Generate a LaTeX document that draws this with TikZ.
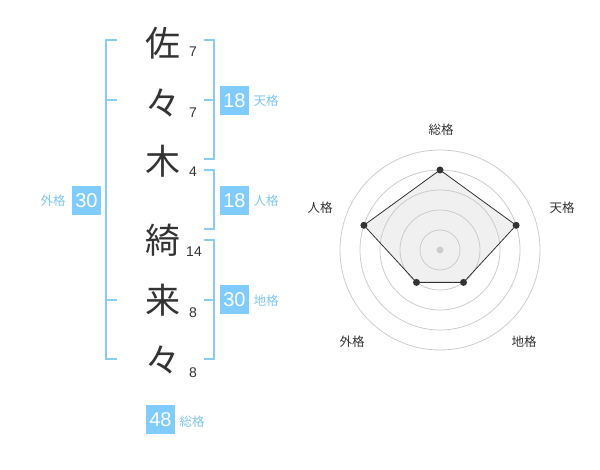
\documentclass[tikz,border=0pt]{standalone}
\usepackage{fontspec}
\setmainfont{Noto Sans CJK JP}
\newfontfamily\digitfont{Liberation Sans}
\definecolor{ink}{HTML}{333333}
\definecolor{lineblue}{HTML}{88CCF6}
\definecolor{boxblue}{HTML}{80CCFF}
\definecolor{labblue}{HTML}{7EC6F2}
\definecolor{ringgray}{HTML}{CCCCCC}
\definecolor{areagray}{HTML}{F0F0F0}
\tikzset{
  kanji/.style={font=\fontsize{35}{35}\selectfont, text=ink, inner sep=0},
  strokes/.style={font=\digitfont\fontsize{14}{14}\selectfont, text=ink, inner sep=0},
  valbox/.style={fill=boxblue, text=white, minimum width=29, minimum height=29, inner sep=0, font=\digitfont\fontsize{20}{20}\selectfont},
  kaku/.style={text=labblue, font=\fontsize{12.5}{12.5}\selectfont, inner sep=0},
  brk/.style={draw=lineblue, line width=2},
  axislab/.style={text=ink, font=\fontsize{12.5}{12.5}\selectfont, inner sep=0},
  ring/.style={draw=ringgray, line width=0.8},
}
\begin{document}
\begin{tikzpicture}[x=1pt,y=-1pt]
\useasboundingbox (0,0) rectangle (600,470);
% characters
\node[kanji] (c1) at (163,43) {佐};
\node[kanji] (c2) at (163,103) {々};
\node[kanji] (c3) at (163,161) {木};
\node[kanji] (c4) at (163,240) {綺};
\node[kanji] (c5) at (163,300) {来};
\node[kanji] (c6) at (163,360) {々};
% stroke counts
\node[strokes] (s1) at (193,52) {7};
\node[strokes] (s2) at (193,113) {7};
\node[strokes] (s3) at (193,172) {4};
\node[strokes] (s4) at (194,252) {14};
\node[strokes] (s5) at (193,313) {8};
\node[strokes] (s6) at (193,373) {8};
% brackets
\draw[brk] (117,40) -- (106,40) -- (106,359) -- (117,359);
\draw[brk] (106,100) -- (117,100);
\draw[brk] (106,300) -- (117,300);
\draw[brk] (204,40) -- (214,40) -- (214,159) -- (204,159);
\draw[brk] (204,100) -- (214,100);
\draw[brk] (204,170) -- (214,170) -- (214,229) -- (204,229);
\draw[brk] (204,240) -- (214,240) -- (214,359) -- (204,359);
\draw[brk] (204,300) -- (214,300);
% values
\node[valbox] (vgai) at (86.5,200.5) {30};
\node[kaku] (lgai) at (53,201) {外格};
\node[valbox] (vten) at (234.5,100.5) {18};
\node[kaku] (lten) at (266,101) {天格};
\node[valbox] (vjin) at (234.5,200.5) {18};
\node[kaku] (ljin) at (266,201) {人格};
\node[valbox] (vchi) at (234.5,300) {30};
\node[kaku] (lchi) at (266,301) {地格};
\node[valbox] (vso) at (160.5,419.5) {48};
\node[kaku] (lso) at (192,422) {総格};
% radar
\coordinate (ctr) at (440,250);
\coordinate (pso) at (440,170);
\coordinate (pten) at (516.1,225.3);
\coordinate (pchi) at (463.5,282.4);
\coordinate (pgai) at (416.5,282.4);
\coordinate (pjin) at (363.9,225.3);
\fill[areagray] (pso) -- (pten) -- (pchi) -- (pgai) -- (pjin) -- cycle;
\foreach \r in {20,40,60,80,100} \draw[ring] (ctr) circle (\r);
\fill[ringgray] (ctr) circle (3.5);
\draw[ink, line width=0.8] (pso) -- (pten) -- (pchi) -- (pgai) -- (pjin) -- cycle;
\foreach \p in {pso,pten,pchi,pgai,pjin} \fill[ink] (\p) circle (3.5);
\node[axislab] (aso) at (441,130) {総格};
\node[axislab] (aten) at (562,208) {天格};
\node[axislab] (ajin) at (320,208) {人格};
\node[axislab] (agai) at (352,342) {外格};
\node[axislab] (achi) at (524,342) {地格};
\end{tikzpicture}
\end{document}
